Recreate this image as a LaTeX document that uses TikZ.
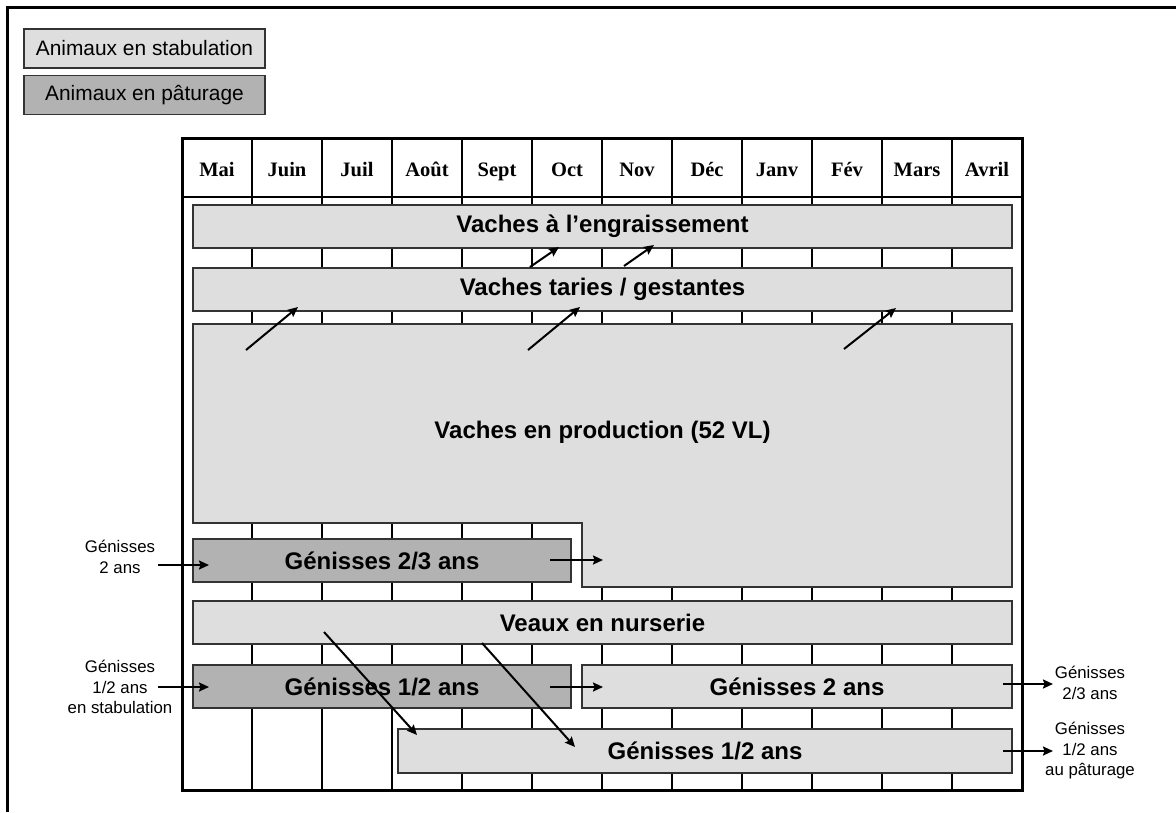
\documentclass[tikz,border=0pt]{standalone}
\usepackage{fontspec}
\setmainfont{Liberation Sans}
\newfontfamily\monthfont{Liberation Serif}
\usepackage{tikz}
\usetikzlibrary{arrows.meta,calc,positioning}
\definecolor{stabgray}{gray}{0.87}
\definecolor{patgray}{gray}{0.70}
\tikzstyle{plan}=[
  >={Stealth[length=10pt,width=9pt,inset=1.5pt]}, x=1pt, y=-1pt,
  font=\fontsize{24}{28}\selectfont\bfseries
]
\tikzstyle{bar}=[
  draw=black!80, line width=1.3pt, fill=stabgray, inner sep=0pt, minimum height=43pt
]
\tikzstyle{pasture}=[
  bar, fill=patgray
]
\tikzstyle{month}=[
  font=\monthfont\fontsize{20.5}{24}\selectfont\bfseries, inner sep=0pt, anchor=base
]
\tikzstyle{legend}=[
  draw=black!80, line width=1.3pt, inner sep=0pt, minimum width=241pt, minimum height=39pt,
  font=\fontsize{20.9}{24}\selectfont
]
\tikzstyle{note}=[
  align=center, inner sep=0pt, font=\fontsize{16.8}{20.5}\selectfont
]
\tikzstyle{flow}=[
  ->, line width=2pt
]

\begin{document}
\begin{tikzpicture}[plan]
  \useasboundingbox (0,0) rectangle (1176,812);
  \draw [line width=2.5pt] (7.5,812) -- (7.5,7.5) -- (1176,7.5);
  % legend
  \node (stab) at (144.5,48.5) [legend, fill=stabgray] {Animaux en stabulation};
  \node (past) at (144.5,95) [legend, fill=patgray] {Animaux en pâturage};
  % calendar
  \foreach \i in {1,...,11}
    \draw [line width=1.5pt] (182+70*\i,138) -- (182+70*\i,790);
  \draw [line width=1.5pt] (182,197) -- (1022,197);
  \foreach \m [count=\i] in {Mai,Juin,Juil,Août,Sept,Oct,Nov,Déc,Janv,Fév,Mars,Avril}
    \node (m\i) at (147+70*\i,176) [month] {\m};
  \draw [line width=3pt] (182,138) rectangle (1022,790);
  % groups
  \node (engr) at (602.5,226.5) [bar, minimum width=819pt] {Vaches à l’engraissement};
  \node (tar) at (602.5,289.5) [bar, minimum width=819pt] {Vaches taries / gestantes};
  \draw [bar] (193,324) -- (1012,324) -- (1012,587) -- (582,587) -- (582,523) -- (193,523) -- cycle;
  \node (prod) at (602.5,432) {Vaches en production (52 VL)};
  \node (g23) at (382,560.5) [pasture, minimum width=378pt] {Génisses 2/3 ans};
  \node (veaux) at (602.5,622.5) [bar, minimum width=819pt] {Veaux en nurserie};
  \node (g12a) at (382,686.5) [pasture, minimum width=378pt] {Génisses 1/2 ans};
  \node (g2) at (797,686.5) [bar, minimum width=430pt] {Génisses 2 ans};
  \node (g12b) at (705,751) [bar, minimum width=614pt, minimum height=44pt] {Génisses 1/2 ans};
  % outside
  \node (in2) at (120,557) [note] {Génisses\\2 ans};
  \node (in12) at (120,687) [note] {Génisses\\1/2 ans\\en stabulation};
  \node (out23) at (1090,683) [note] {Génisses\\2/3 ans};
  \node (out12) at (1090,751) [note] {Génisses\\1/2 ans\\au pâturage};
  % arrow ends
  \coordinate (e1a) at (530,267); \coordinate (e1b) at (559,247);
  \coordinate (e2a) at (624,266); \coordinate (e2b) at (654,245);
  \coordinate (t1a) at (246,350); \coordinate (t1b) at (298,307);
  \coordinate (t2a) at (528,350); \coordinate (t2b) at (580,307);
  \coordinate (t3a) at (844,349); \coordinate (t3b) at (896,308);
  \coordinate (p1a) at (550,560); \coordinate (p1b) at (603,560);
  \coordinate (p2a) at (550,687); \coordinate (p2b) at (603,687);
  \coordinate (v1a) at (324,632); \coordinate (v1b) at (417,735);
  \coordinate (v2a) at (482,643); \coordinate (v2b) at (575,747);
  \coordinate (i1a) at (158,565); \coordinate (i1b) at (209,565);
  \coordinate (i2a) at (158,687); \coordinate (i2b) at (209,687);
  \coordinate (o1a) at (1003,684); \coordinate (o1b) at (1053,684);
  \coordinate (o2a) at (1003,751); \coordinate (o2b) at (1053,751);
  \foreach \a in {e1,e2,t1,t2,t3,p1,p2,v1,v2,i1,i2,o1,o2}
    \draw [flow] (\a a) -- (\a b);
\end{tikzpicture}
\end{document}
